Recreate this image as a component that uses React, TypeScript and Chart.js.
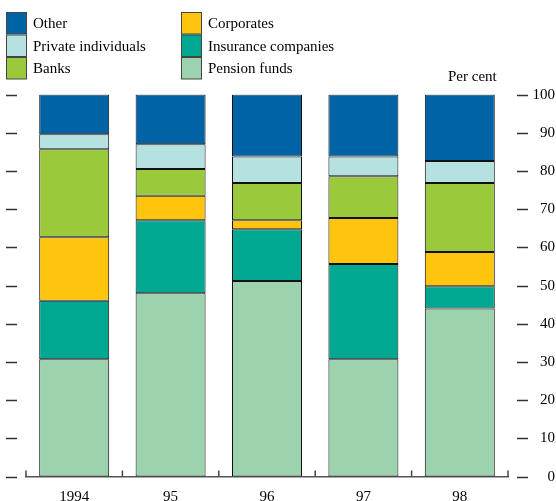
import React, { useEffect, useRef } from "react";
import { Chart, registerables } from "chart.js";

Chart.register(...registerables);

const categories = ["1994", "95", "96", "97", "98"];
const pensionFunds = [30.7, 48.0, 51.2, 30.7, 44.0];
const insuranceCompanies = [15.3, 19.1, 13.5, 24.9, 5.8];
const corporates = [16.6, 6.4, 2.4, 12.1, 9.0];
const banks = [23.1, 7.0, 9.7, 10.9, 18.0];
const privateIndividuals = [3.9, 6.5, 7.0, 5.2, 5.8];
const other = [10.4, 13.0, 16.2, 16.2, 17.4];
const yTickValues = [0, 10, 20, 30, 40, 50, 60, 70, 80, 90, 100];
const unitLabel = "Per cent";

const FONT = "'Liberation Serif', 'Times New Roman', serif";

const seriesDefs = [
  { label: "Pension funds", data: pensionFunds, color: "#9cd3ae" },
  { label: "Insurance companies", data: insuranceCompanies, color: "#00a892" },
  { label: "Corporates", data: corporates, color: "#fec40e" },
  { label: "Banks", data: banks, color: "#9aca3c" },
  { label: "Private individuals", data: privateIndividuals, color: "#b5e1e1" },
  { label: "Other", data: other, color: "#0063a6" },
];

const legendColumns = [
  ["Other", "Private individuals", "Banks"],
  ["Corporates", "Insurance companies", "Pension funds"],
];

const decorPlugin = {
  id: "decor",
  afterDraw(chart: any) {
    const ctx = chart.ctx;
    const y = chart.scales.y;
    const x = chart.scales.x;
    const area = chart.chartArea;
    ctx.save();
    ctx.strokeStyle = "#333";
    ctx.lineWidth = 1.5;
    ctx.fillStyle = "#000";
    ctx.font = `15px ${FONT}`;
    ctx.textAlign = "right";
    ctx.textBaseline = "middle";
    yTickValues.forEach((v) => {
      const py = Math.round(y.getPixelForValue(v)) + 0.5;
      ctx.beginPath();
      ctx.moveTo(6, py);
      ctx.lineTo(17, py);
      ctx.moveTo(517, py);
      ctx.lineTo(528, py);
      ctx.stroke();
      ctx.fillText(String(v), 555, py);
    });
    ctx.textAlign = "left";
    ctx.textBaseline = "alphabetic";
    ctx.fillText(unitLabel, 448, 81);
    ctx.strokeStyle = "#444";
    ctx.lineWidth = 1.5;
    const n = categories.length;
    const step = (area.right - area.left) / n;
    for (let i = 0; i <= n; i++) {
      const px = i < n ? x.getPixelForValue(i) - step / 2 : x.getPixelForValue(n - 1) + step / 2;
      ctx.beginPath();
      ctx.moveTo(px, area.bottom);
      ctx.lineTo(px, area.bottom - 6);
      ctx.stroke();
    }
    const colX = [6, 181];
    const rowY = [12, 34.5, 57];
    ctx.textBaseline = "middle";
    legendColumns.forEach((col, ci) => {
      col.forEach((name, ri) => {
        const ds = chart.data.datasets.find((d: any) => d.label === name);
        ctx.fillStyle = ds.backgroundColor;
        ctx.fillRect(colX[ci], rowY[ri], 21, 22);
        ctx.strokeStyle = "#444";
        ctx.lineWidth = 1;
        ctx.strokeRect(colX[ci] + 0.5, rowY[ri] + 0.5, 20, 21.5);
        ctx.fillStyle = "#000";
        ctx.fillText(name, colX[ci] + 27, rowY[ri] + 12.5);
      });
    });
    ctx.restore();
  },
};

export default function App() {
  const ref = useRef<HTMLCanvasElement>(null);
  useEffect(() => {
    if (!ref.current) return;
    Chart.defaults.font.family = FONT;
    const chart = new Chart(ref.current, {
      type: "bar",
      data: {
        labels: categories,
        datasets: seriesDefs.map((s) => ({
          label: s.label,
          data: s.data,
          backgroundColor: s.color,
          borderColor: "#111",
          borderWidth: 1,
          borderSkipped: false,
          barPercentage: 0.726,
          categoryPercentage: 1,
        })),
      },
      options: {
        responsive: false,
        animation: false,
        layout: { padding: { left: 26, right: 48, top: 94.5, bottom: 0 } },
        plugins: { legend: { display: false }, tooltip: { enabled: false } },
        scales: {
          x: {
            stacked: true,
            grid: { display: false, drawTicks: false },
            border: { display: true, color: "#555", width: 1.5 },
            ticks: { color: "#000", font: { size: 15, family: FONT }, padding: 12 },
            afterFit(scale: any) {
              scale.height = 24.5;
            },
          },
          y: {
            stacked: true,
            display: false,
            min: 0,
            max: 100,
          },
        },
      },
      plugins: [decorPlugin],
    });
    return () => chart.destroy();
  }, []);
  return (
    <div style={{ position: "absolute", left: 0, top: 0, width: 556, height: 501, background: "#fff" }}>
      <canvas ref={ref} width={556} height={501} style={{ display: "block" }} />
    </div>
  );
}
